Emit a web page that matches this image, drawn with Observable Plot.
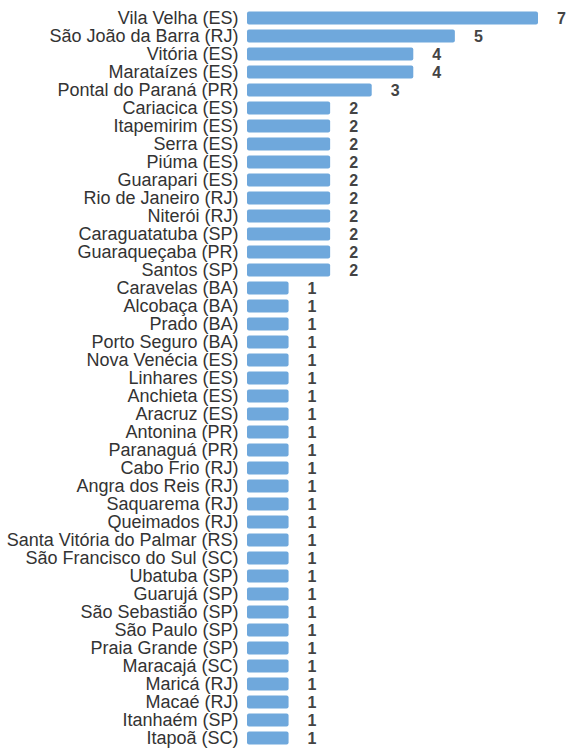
<!DOCTYPE html>
<html>
<head>
<meta charset="utf-8">
<script src="https://cdn.jsdelivr.net/npm/d3@7"></script>
<script src="https://cdn.jsdelivr.net/npm/@observablehq/plot@0.6"></script>
<style>
  html, body { margin: 0; padding: 0; background: #fff; }
</style>
</head>
<body>
<div id="chart"></div>
<script>
const cities = [
  "Vila Velha (ES)", "São João da Barra (RJ)", "Vitória (ES)", "Marataízes (ES)",
  "Pontal do Paraná (PR)", "Cariacica (ES)", "Itapemirim (ES)", "Serra (ES)",
  "Piúma (ES)", "Guarapari (ES)", "Rio de Janeiro (RJ)", "Niterói (RJ)",
  "Caraguatatuba (SP)", "Guaraqueçaba (PR)", "Santos (SP)", "Caravelas (BA)",
  "Alcobaça (BA)", "Prado (BA)", "Porto Seguro (BA)", "Nova Venécia (ES)",
  "Linhares (ES)", "Anchieta (ES)", "Aracruz (ES)", "Antonina (PR)",
  "Paranaguá (PR)", "Cabo Frio (RJ)", "Angra dos Reis (RJ)", "Saquarema (RJ)",
  "Queimados (RJ)", "Santa Vitória do Palmar (RS)", "São Francisco do Sul (SC)",
  "Ubatuba (SP)", "Guarujá (SP)", "São Sebastião (SP)", "São Paulo (SP)",
  "Praia Grande (SP)", "Maracajá (SC)", "Maricá (RJ)", "Macaé (RJ)",
  "Itanhaém (SP)", "Itapoã (SC)"
];
const counts = [
  7, 5, 4, 4, 3, 2, 2, 2, 2, 2, 2, 2, 2, 2, 2,
  1, 1, 1, 1, 1, 1, 1, 1, 1, 1, 1, 1, 1, 1, 1,
  1, 1, 1, 1, 1, 1, 1, 1, 1, 1, 1
];

const data = cities.map((c, i) => ({city: c, n: counts[i]}));

const chart = Plot.plot({
  width: 566,
  height: 752,
  marginLeft: 247,
  marginRight: 28,
  marginTop: 6.5,
  marginBottom: 2.5,
  style: {fontFamily: "'Liberation Sans', Arial, sans-serif", fontSize: "18px", color: "#333"},
  x: {domain: [0, 7], axis: null},
  y: {domain: cities, padding: 0.28, label: null, tickSize: 0, tickPadding: 9},
  marks: [
    Plot.barX(data, {x: "n", y: "city", fill: "#6fa8dc", rx: 2}),
    Plot.text(data, {x: "n", y: "city", text: d => String(d.n), dx: 23, textAnchor: "middle",
      fontWeight: "bold", fill: "#444", fontSize: 16})
  ]
});
document.getElementById("chart").appendChild(chart);
</script>
</body>
</html>
